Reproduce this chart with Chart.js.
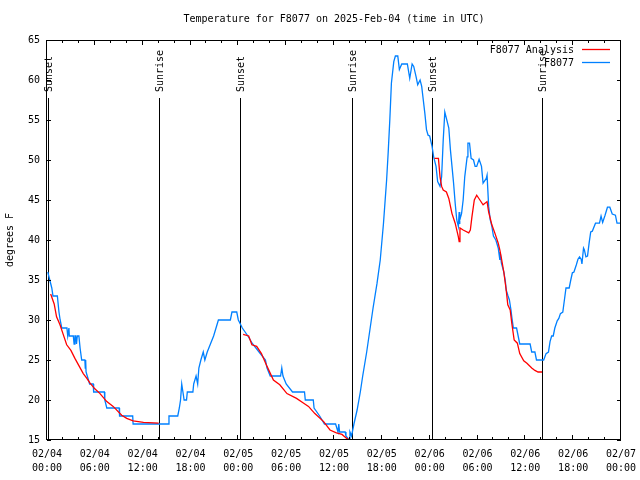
<!DOCTYPE html>
<html>
<head>
<meta charset="utf-8">
<script src="https://cdn.jsdelivr.net/npm/chart.js@4.4.1/dist/chart.umd.min.js"></script>
<style>
  html, body { margin: 0; padding: 0; background: #fff; }
  #wrap { width: 640px; height: 480px; }
</style>
</head>
<body>
<div id="wrap"><canvas id="temp-chart" width="640" height="480"></canvas></div>
<script>
// hours since 02/04 00:00 UTC
const obsHours = [
  0.1, 0.35, 0.6, 0.75, 1.3, 1.5, 1.65, 1.85, 2.5, 2.6, 2.75, 2.8, 3.3, 3.4, 3.5, 3.6, 3.7, 3.8, 4.0, 4.15,
  4.35, 4.75, 4.8, 4.85, 4.9, 5.05, 5.35, 5.8, 5.85, 7.2, 7.25, 7.5, 9.05, 9.1, 10.75, 10.8, 15.2, 15.3, 16.4, 16.6,
  16.75, 16.9, 17.05, 17.2, 17.5, 17.6, 18.3, 18.4, 18.7, 18.9, 19.05, 19.3, 19.6, 19.8, 20.1, 20.5, 20.9, 21.2, 21.5, 23.0,
  23.2, 23.8, 24.0, 24.5, 25.2, 25.8, 26.6, 27.4, 27.6, 28.0, 29.3, 29.45, 29.6, 30.0, 30.8, 32.3, 32.4, 33.4, 33.5, 34.2,
  34.8, 36.2, 36.5, 36.6, 36.7, 37.4, 37.5, 37.9, 38.0, 38.2, 38.3, 38.5, 38.9, 39.3, 39.6, 40.1, 40.5, 40.9, 41.4, 41.8,
  42.2, 42.6, 42.8, 43.0, 43.2, 43.5, 43.7, 44.0, 44.2, 44.5, 45.2, 45.5, 45.8, 46.0, 46.3, 46.5, 46.8, 47.0, 47.2, 47.4,
  47.6, 47.8, 48.0, 48.3, 48.5, 48.8, 49.0, 49.3, 49.5, 49.7, 49.9, 50.1, 50.4, 50.6, 50.8, 51.0, 51.2, 51.4, 51.6, 51.7,
  51.75, 51.8, 52.0, 52.2, 52.4, 52.7, 52.8, 53.0, 53.2, 53.5, 53.7, 53.9, 54.2, 54.5, 54.7, 55.1, 55.2, 55.4, 55.6, 55.8,
  56.0, 56.3, 56.6, 56.8, 56.85, 57.0, 57.3, 57.5, 57.6, 57.8, 58.0, 58.2, 58.3, 58.5, 58.9, 59.1, 59.3, 60.6, 60.8, 61.2,
  61.4, 62.3, 62.6, 62.9, 63.1, 63.3, 63.5, 63.7, 64.0, 64.2, 64.4, 64.7, 64.9, 65.1, 65.5, 65.7, 65.9, 66.1, 66.4, 66.6,
  66.8, 67.0, 67.1, 67.3, 67.4, 67.6, 67.8, 68.0, 68.2, 68.4, 68.8, 69.3, 69.5, 69.7, 70.0, 70.3, 70.6, 70.9, 71.3, 71.5,
  72.0
];
const obsTemps = [
  36, 35, 34, 33, 33, 31, 30, 29, 29, 28, 29, 28, 28, 27, 28, 28, 27, 28, 28, 26.5,
  25, 25, 24, 25, 23.5, 23, 22, 22, 21, 21, 20, 19, 19, 18, 18, 17, 17, 18, 18, 19,
  20, 22, 21, 20, 20, 21, 21, 22, 23, 22, 24, 25, 26, 25, 26, 27, 28, 29, 30, 30,
  31, 31, 30, 29, 28, 27, 26, 25, 24, 23, 23, 24, 23, 22, 21, 21, 20, 20, 19, 18,
  17, 17, 16, 17, 16, 16, 15.5, 15, 16, 15.5, 16, 17, 18.75, 21, 23, 26, 28.75, 31.5, 34.6, 37.5,
  42, 47.5, 51, 55, 59.6, 62.3, 63, 63, 61.3, 62, 62, 60.2, 62, 61.7, 60.4, 59.4, 60, 59.2, 57.5, 55.8,
  53.8, 53.1, 53, 51.7, 50.4, 49.2, 47.3, 46.7, 47.9, 52.5, 56, 55.2, 54, 51.3, 49.2, 47.1, 44.6, 42.5, 41.7, 43.5,
  42, 42.5, 43.3, 45, 47.9, 50.4, 52.1, 52.1, 50.2, 50, 49.2, 49.2, 50.1, 49.2, 47.1, 47.7, 48.1, 44.2, 42.5, 41.7,
  40.5, 40, 39, 37.5, 38.5, 37.1, 36, 34.8, 33.75, 33.1, 32.5, 31.25, 30.4, 29, 29, 28, 27, 27, 26, 26,
  25, 25, 25.8, 26, 27.3, 28, 28, 29, 29.9, 30.2, 30.8, 31, 32.5, 34, 34, 35, 35.9, 36, 36.9, 37.6,
  37.9, 37.6, 37, 39, 38.8, 37.9, 38, 39.6, 41, 41.1, 42.1, 42.1, 43, 42.2, 43.1, 44.1, 44.1, 43.25, 43.1, 42.1,
  42.1
];

// analysis only exists overnight; null marks the daytime gaps
const anaHours = [
  0.46, 0.9, 1.2, 1.63, 2.0, 2.47, 3.0, 3.5, 4.0, 4.55, 5.0, 5.4, 6.0, 6.65, 7.5, 8.3, 9.37, 10.0, 10.8, 12.1, 14.0,
  19.0,
  24.6, 25.3, 25.7, 26.3, 26.9, 27.6, 28.4, 29.2, 30.1, 31.3, 32.2, 32.8, 33.6, 34.7, 35.5, 36.3, 37.0, 37.6, 37.9,
  43.0,
  48.6, 49.1, 49.3, 49.5, 49.7, 50.1, 50.4, 50.8, 51.2, 51.6, 51.7, 51.8, 52.2, 52.9, 53.1, 53.3, 53.6, 53.9, 54.3, 54.7,
  55.2, 55.4, 55.8, 56.2, 56.6, 56.8, 57.0, 57.3, 57.6, 57.8, 58.1, 58.3, 58.6, 59.0, 59.3, 59.8, 60.2, 60.8, 61.2, 61.6, 62.1
];
const anaTemps = [
  33.25, 32, 30.4, 29.4, 28.3, 26.9, 26.2, 25.2, 24.3, 23.3, 22.7, 22.1, 21.4, 20.8, 19.8, 19.2, 18.1, 17.7, 17.4, 17.2, 17.1,
  null,
  28.2, 28, 26.9, 26.7, 25.8, 24.2, 22.5, 21.9, 20.8, 20.2, 19.6, 19.2, 18.3, 17.3, 16.25, 15.9, 15.7, 15.2, 15,
  null,
  50.2, 50.2, 47.9, 46.7, 46.25, 46, 45.2, 43.3, 42.1, 40.4, 39.8, 41.5, 41.25, 40.9, 41.25, 42.9, 45, 45.6, 45, 44.4,
  44.8, 43.5, 41.9, 40.8, 39.6, 38.75, 37.7, 36, 33.75, 31.9, 31.25, 29.6, 27.5, 27.1, 25.8, 24.9, 24.6, 24, 23.7, 23.5, 23.5
];

const tickDays = ["02/04", "02/04", "02/04", "02/04", "02/05", "02/05", "02/05", "02/05", "02/06", "02/06", "02/06", "02/06", "02/07"];
const tickTimes = ["00:00", "06:00", "12:00", "18:00", "00:00", "06:00", "12:00", "18:00", "00:00", "06:00", "12:00", "18:00", "00:00"];

const sunHours = [0.15, 14.1, 24.25, 38.2, 48.35, 62.15];
const sunLabels = ["Sunset", "Sunrise", "Sunset", "Sunrise", "Sunset", "Sunrise"];

const monoFont = '"DejaVu Sans Mono", "Liberation Mono", monospace';

Chart.defaults.font.family = monoFont;
Chart.defaults.font.size = 10;
Chart.defaults.color = "#000";

// gnuplot-ish frame, inward ticks, sun markers and legend
const gnuplotDecor = {
  id: "gnuplotDecor",
  beforeDatasetsDraw(chart) {
    const {ctx, chartArea: a, scales: {x}} = chart;
    ctx.save();
    ctx.strokeStyle = "#000";
    ctx.fillStyle = "#000";
    ctx.lineWidth = 1;
    ctx.font = "10px " + monoFont;
    sunHours.forEach((h, i) => {
      const px = Math.round(x.getPixelForValue(h)) + 0.5;
      ctx.beginPath();
      ctx.moveTo(px, a.top + 58);
      ctx.lineTo(px, a.bottom);
      ctx.stroke();
      ctx.save();
      ctx.translate(px + 1, a.top + 52);
      ctx.rotate(-Math.PI / 2);
      ctx.textAlign = "left";
      ctx.textBaseline = "middle";
      ctx.fillText(sunLabels[i], 0, 0);
      ctx.restore();
    });
    ctx.restore();
  },
  afterDraw(chart) {
    const {ctx, chartArea: a, scales: {x, y}} = chart;
    ctx.save();
    ctx.strokeStyle = "#000";
    ctx.lineWidth = 1;
    ctx.strokeRect(a.left - 0.5, a.top + 0.5, a.right - a.left, a.bottom - a.top - 1);

    ctx.beginPath();
    for (let h = 0; h <= 72; h += 2) {
      const px = Math.round(x.getPixelForValue(h)) - 0.5;
      const len = h % 6 === 0 ? 5 : 3;
      ctx.moveTo(px, a.bottom);
      ctx.lineTo(px, a.bottom - len);
      ctx.moveTo(px, a.top);
      ctx.lineTo(px, a.top + len);
    }
    for (let t = 15; t <= 65; t += 5) {
      const py = Math.round(y.getPixelForValue(t)) + 0.5;
      ctx.moveTo(a.left, py);
      ctx.lineTo(a.left + 4, py);
      ctx.moveTo(a.right, py);
      ctx.lineTo(a.right - 4, py);
    }
    ctx.stroke();

    // legend: text right aligned, sample line to the right
    ctx.font = "10px " + monoFont;
    ctx.textAlign = "right";
    ctx.textBaseline = "middle";
    chart.data.datasets.forEach((ds, i) => {
      const ly = a.top + 10 + i * 13;
      ctx.fillStyle = "#000";
      ctx.fillText(ds.label, a.right - 47, ly);
      ctx.strokeStyle = ds.borderColor;
      ctx.lineWidth = 1.3;
      ctx.beginPath();
      ctx.moveTo(a.right - 39, ly - 0.5);
      ctx.lineTo(a.right - 11, ly - 0.5);
      ctx.stroke();
    });
    ctx.restore();
  }
};

const ctx = document.getElementById("temp-chart");

new Chart(ctx, {
  type: "line",
  data: {
    datasets: [
      {
        label: "F8077 Analysis",
        data: anaHours.map((h, i) => ({x: h, y: anaTemps[i]})),
        borderColor: "#ff0000",
        borderWidth: 1.3,
        pointRadius: 0,
        tension: 0,
        spanGaps: false,
        fill: false
      },
      {
        label: "F8077",
        data: obsHours.map((h, i) => ({x: h, y: obsTemps[i]})),
        borderColor: "#0080ff",
        borderWidth: 1.3,
        pointRadius: 0,
        tension: 0,
        fill: false
      }
    ]
  },
  options: {
    responsive: false,
    animation: false,
    events: [],
    layout: {padding: {left: 0, right: 19, top: 0, bottom: 0}},
    plugins: {
      legend: {display: false},
      tooltip: {enabled: false},
      title: {
        display: true,
        fullSize: false,
        text: "Temperature for F8077 on 2025-Feb-04 (time in UTC)",
        font: {family: monoFont, size: 10, weight: "normal", lineHeight: 1.2},
        color: "#000",
        padding: {top: 13, bottom: 15}
      }
    },
    scales: {
      x: {
        type: "linear",
        min: 0,
        max: 72,
        grid: {display: false, drawTicks: false},
        border: {display: false},
        afterFit(scale) {
          scale.height = 40;
          scale.paddingLeft = 0;
          scale.paddingRight = 0;
        },
        ticks: {
          stepSize: 6,
          autoSkip: false,
          maxRotation: 0,
          padding: 8,
          font: {size: 10, lineHeight: 1.35},
          callback(value) {
            const i = Math.round(value / 6);
            return [tickDays[i], tickTimes[i]];
          }
        }
      },
      y: {
        min: 15,
        max: 65,
        grid: {display: false, drawTicks: false},
        border: {display: false},
        afterFit(scale) { scale.width = 47; },
        ticks: {stepSize: 5, padding: 7, font: {size: 10}},
        title: {
          display: true,
          text: "degrees F",
          font: {size: 10, lineHeight: 1.2},
          padding: {top: 4, bottom: 0}
        }
      }
    }
  },
  plugins: [gnuplotDecor]
});
</script>
</body>
</html>
